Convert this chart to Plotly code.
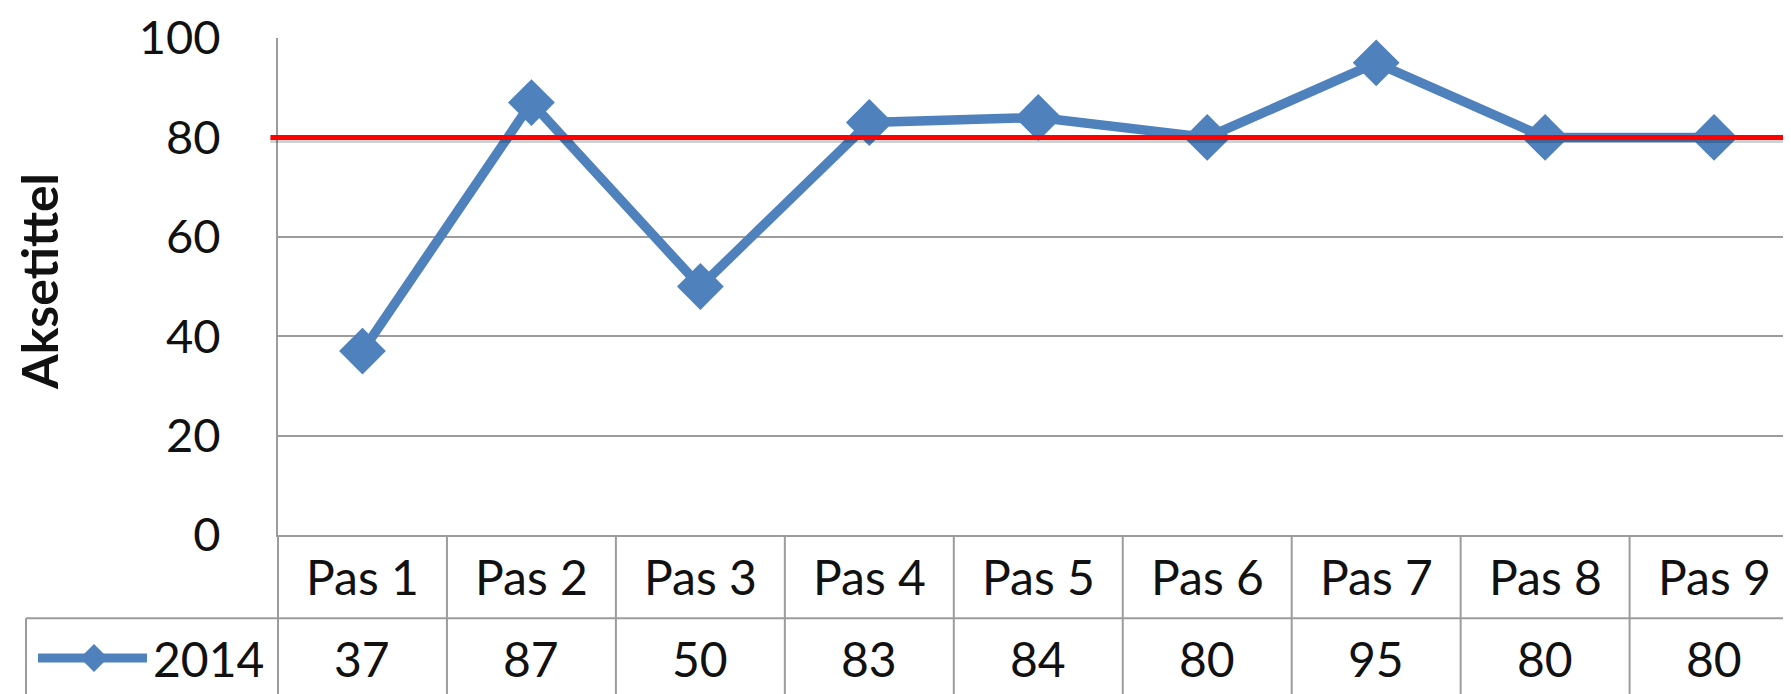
import plotly.graph_objects as go

categories = ["Pas 1", "Pas 2", "Pas 3", "Pas 4", "Pas 5", "Pas 6", "Pas 7", "Pas 8", "Pas 9"]
values_2014 = [37, 87, 50, 83, 84, 80, 95, 80, 80]
series_name = "2014"
target_value = 80
y_ticks = [0, 20, 40, 60, 80, 100]
y_title = "Aksetittel"

# page has an 8px body margin; figure is sized to fill the rest of the window
OFF = 8
W, H = 1791 - OFF, 694 - OFF
ML, MT, MB, MR = 278 - OFF, 34 - OFF, 694 - 535, 0
plot_w = W - ML - MR
plot_h = H - MT - MB

def px_to_py(p):
    return (694 - MB - p) / plot_h

def px_to_px(p):
    return (p - 278) / plot_w

BLUE = "#4F81BD"
GRID = "#9C9C9C"
FONT = "Lato"
FS = 48

xs = list(range(len(categories)))

fig = go.Figure()
fig.add_trace(go.Scatter(
    x=xs, y=values_2014, mode="lines+markers", name=series_name,
    line=dict(color=BLUE, width=9.5),
    marker=dict(symbol="diamond", size=36, color=BLUE),
    showlegend=False,
))

shapes = []
shapes.append(dict(type="line", xref="paper", yref="y", x0=-0.005, x1=1, y0=target_value - 0.6,
                   y1=target_value - 0.6, line=dict(color="rgba(0,0,0,0.18)", width=5), layer="above"))
shapes.append(dict(type="line", xref="paper", yref="y", x0=-0.005, x1=1, y0=target_value,
                   y1=target_value, line=dict(color="#FF0000", width=5), layer="above"))

row_div = px_to_py(619)
bottom = px_to_py(700)
for i in range(len(categories)):
    xb = i + 0.5
    shapes.append(dict(type="line", xref="x", yref="paper", x0=xb, x1=xb, y0=0, y1=bottom,
                       line=dict(color=GRID, width=2)))
shapes.append(dict(type="line", xref="paper", yref="paper", x0=0, x1=0, y0=0, y1=bottom,
                   line=dict(color=GRID, width=2)))
shapes.append(dict(type="line", xref="paper", yref="paper", x0=px_to_px(26), x1=1, y0=row_div, y1=row_div,
                   line=dict(color=GRID, width=2)))
shapes.append(dict(type="line", xref="paper", yref="paper", x0=px_to_px(26), x1=px_to_px(26),
                   y0=row_div, y1=bottom, line=dict(color=GRID, width=2)))

val_y = px_to_py(659)
cat_y = px_to_py(577)
shapes.append(dict(type="line", xref="paper", yref="paper", x0=px_to_px(38), x1=px_to_px(147),
                   y0=val_y, y1=val_y, line=dict(color=BLUE, width=9)))
shapes.append(dict(type="path", xref="paper", yref="paper", xsizemode="pixel", ysizemode="pixel",
                   xanchor=px_to_px(94), yanchor=val_y,
                   path="M -14 0 L 0 14 L 14 0 L 0 -14 Z", fillcolor=BLUE, line=dict(color=BLUE, width=0)))

annotations = []
for i, (c, v) in enumerate(zip(categories, values_2014)):
    annotations.append(dict(x=i, y=cat_y, xref="x", yref="paper", text=c, showarrow=False,
                            xanchor="center", yanchor="middle", font=dict(family=FONT, size=FS, color="#111")))
    annotations.append(dict(x=i, y=val_y, xref="x", yref="paper", text=str(v), showarrow=False,
                            xanchor="center", yanchor="middle", font=dict(family=FONT, size=FS, color="#111")))
annotations.append(dict(x=px_to_px(266), y=val_y, xref="paper", yref="paper", text=series_name, showarrow=False,
                        xanchor="right", yanchor="middle", font=dict(family=FONT, size=FS, color="#111")))
annotations.append(dict(x=px_to_px(39), y=px_to_py(280), xref="paper", yref="paper", text="<b>" + y_title + "</b>",
                        showarrow=False, textangle=-90, xanchor="center", yanchor="middle",
                        font=dict(family=FONT, size=50, color="#111")))

fig.update_layout(
    width=W, height=H,
    margin=dict(l=ML, r=MR, t=MT, b=MB, pad=0),
    paper_bgcolor="white", plot_bgcolor="white",
    shapes=shapes, annotations=annotations,
    xaxis=dict(range=[-0.5, -0.5 + plot_w / 168.95], showticklabels=False, showgrid=False, zeroline=False,
               showline=True, linecolor=GRID, linewidth=2, ticks=""),
    yaxis=dict(range=[0, 100], tickvals=y_ticks, showgrid=True, gridcolor=GRID, gridwidth=2,
               zeroline=False, showline=True, linecolor=GRID, linewidth=2, ticks="",
               ticklabeloverflow="allow",
               ticklabelstandoff=46, tickfont=dict(family=FONT, size=47, color="#111")),
)

fig.write_html("out.html")
